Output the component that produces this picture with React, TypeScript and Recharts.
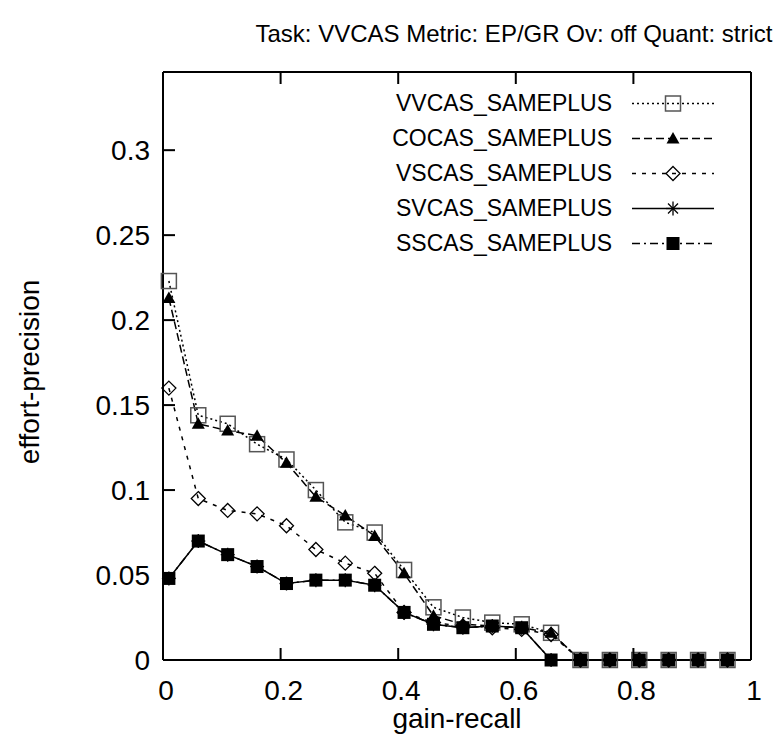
import { LineChart, Line, XAxis, YAxis, Legend } from "recharts"

// gain-recall points
const recall = [0.01, 0.06, 0.11, 0.16, 0.21, 0.26, 0.31, 0.36, 0.41, 0.46, 0.51, 0.56, 0.61, 0.66, 0.71, 0.76, 0.81, 0.86, 0.91, 0.96]

// effort-precision per run
const vvcas = [0.223, 0.144, 0.139, 0.127, 0.118, 0.1, 0.081, 0.075, 0.053, 0.031, 0.025, 0.022, 0.021, 0.016, 0, 0, 0, 0, 0, 0]
const cocas = [0.213, 0.139, 0.135, 0.132, 0.116, 0.096, 0.085, 0.073, 0.051, 0.026, 0.021, 0.02, 0.019, 0.016, 0, 0, 0, 0, 0, 0]
const vscas = [0.16, 0.095, 0.088, 0.086, 0.079, 0.065, 0.057, 0.051, 0.028, 0.022, 0.02, 0.019, 0.018, 0.015, 0, 0, 0, 0, 0, 0]
const svcas = [0.048, 0.07, 0.062, 0.055, 0.045, 0.047, 0.047, 0.044, 0.028, 0.021, 0.019, 0.02, 0.019, 0, 0, 0, 0, 0, 0, 0]
const sscas = [0.048, 0.07, 0.062, 0.055, 0.045, 0.047, 0.047, 0.044, 0.028, 0.021, 0.019, 0.02, 0.019, 0, 0, 0, 0, 0, 0, 0]

const xTicks = [0, 0.2, 0.4, 0.6, 0.8, 1]
const yTicks = [0, 0.05, 0.1, 0.15, 0.2, 0.25, 0.3]

const rows = recall.map((x, i) => ({
  x,
  vv: vvcas[i],
  co: cocas[i],
  vs: vscas[i],
  sv: svcas[i],
  ss: sscas[i],
}))

const series = [
  { key: "vv", name: "VVCAS_SAMEPLUS", dash: "2 3", shape: "square" },
  { key: "co", name: "COCAS_SAMEPLUS", dash: "8 4", shape: "triangle" },
  { key: "vs", name: "VSCAS_SAMEPLUS", dash: "4 6", shape: "diamond" },
  { key: "sv", name: "SVCAS_SAMEPLUS", dash: undefined, shape: "star" },
  { key: "ss", name: "SSCAS_SAMEPLUS", dash: "8 4 2 4", shape: "filled" },
]

const font = '"Liberation Sans", Arial, Helvetica, sans-serif'

function marker(shape: string, cx: number, cy: number, key: any) {
  if (cx == null || cy == null) return <g key={key} />
  switch (shape) {
    case "square":
      return <rect key={key} x={cx - 7.5} y={cy - 7.5} width={15} height={15} fill="none" stroke="#555" strokeWidth={1.5} />
    case "triangle":
      return <polygon key={key} points={`${cx},${cy - 6.5} ${cx - 6.5},${cy + 5} ${cx + 6.5},${cy + 5}`} fill="#000" />
    case "diamond":
      return <polygon key={key} points={`${cx},${cy - 7} ${cx + 7},${cy} ${cx},${cy + 7} ${cx - 7},${cy}`} fill="none" stroke="#000" strokeWidth={1.3} />
    case "star":
      return (
        <g key={key} stroke="#000" strokeWidth={1.3}>
          <line x1={cx - 7} y1={cy} x2={cx + 7} y2={cy} />
          <line x1={cx} y1={cy - 7} x2={cx} y2={cy + 7} />
          <line x1={cx - 5} y1={cy - 5} x2={cx + 5} y2={cy + 5} />
          <line x1={cx - 5} y1={cy + 5} x2={cx + 5} y2={cy - 5} />
        </g>
      )
    default:
      return <rect key={key} x={cx - 6.5} y={cy - 6.5} width={13} height={13} fill="#000" />
  }
}

const fmt = (v: number) => String(v)

function BottomTick(p: any) {
  return (
    <g>
      <line x1={p.x} y1={p.y} x2={p.x} y2={p.y - 12} stroke="#000" strokeWidth={2} />
      <text x={p.x + 3} y={p.y + 40} textAnchor="middle" fontSize={28} fontFamily={font} fill="#000">
        {fmt(p.payload.value)}
      </text>
    </g>
  )
}

function TopTick(p: any) {
  return <line x1={p.x} y1={p.y} x2={p.x} y2={p.y + 12} stroke="#000" strokeWidth={2} />
}

function LeftTick(p: any) {
  return (
    <g>
      <line x1={p.x} y1={p.y} x2={p.x + 12} y2={p.y} stroke="#000" strokeWidth={2} />
      <text x={p.x - 13} y={p.y + 10} textAnchor="end" fontSize={28} fontFamily={font} fill="#000">
        {fmt(p.payload.value)}
      </text>
    </g>
  )
}

function RightTick(p: any) {
  return <line x1={p.x} y1={p.y} x2={p.x - 12} y2={p.y} stroke="#000" strokeWidth={2} />
}

function LegendBox() {
  return (
    <div style={{ fontFamily: font, fontSize: 23, color: "#000" }}>
      {series.map((s) => (
        <div key={s.key} style={{ display: "flex", alignItems: "center", height: 35 }}>
          <span style={{ width: 230, textAlign: "right", whiteSpace: "nowrap" }}>{s.name}</span>
          <svg width={110} height={35} style={{ display: "block" }}>
            <line x1={20} y1={17.5} x2={102} y2={17.5} stroke="#000" strokeWidth={1.5} strokeDasharray={s.dash} />
            {marker(s.shape, 61, 17.5, s.key)}
          </svg>
        </div>
      ))}
    </div>
  )
}

const axisLine = { stroke: "#000", strokeWidth: 2 }

export default function App() {
  return (
    <div style={{ position: "absolute", left: 0, top: 0, width: 782, height: 749, background: "#fff" }}>
      <LineChart width={782} height={749} data={rows} margin={{ top: 71, right: 30, bottom: 0, left: 0 }}>
        <XAxis xAxisId="b" type="number" dataKey="x" domain={[0, 1]} ticks={xTicks} orientation="bottom" height={89}
          axisLine={axisLine} tickLine={false} tickSize={0} tickMargin={0} tick={(p: any) => <BottomTick {...p} />} />
        <XAxis xAxisId="t" type="number" dataKey="x" domain={[0, 1]} ticks={xTicks} orientation="top" height={1}
          axisLine={axisLine} tickLine={false} tickSize={0} tickMargin={0} tick={(p: any) => <TopTick {...p} />} />
        <YAxis yAxisId="l" type="number" domain={[0, 0.346]} ticks={yTicks} width={163}
          axisLine={axisLine} tickLine={false} tickSize={0} tickMargin={0} tick={(p: any) => <LeftTick {...p} />} />
        <YAxis yAxisId="r" type="number" orientation="right" domain={[0, 0.346]} ticks={yTicks} width={1}
          axisLine={axisLine} tickLine={false} tickSize={0} tickMargin={0} tick={(p: any) => <RightTick {...p} />} />
        <Legend layout="vertical" align="center" verticalAlign="middle" content={() => <LegendBox />}
          wrapperStyle={{ left: 382, top: 86, width: 345, height: 175 }} />
        {series.map((s) => (
          <Line key={s.key} xAxisId="b" yAxisId="l" type="linear" dataKey={s.key} name={s.name}
            stroke="#000" strokeWidth={1.5} strokeDasharray={s.dash} isAnimationActive={false}
            dot={(p: any) => marker(s.shape, p.cx, p.cy, p.index)} activeDot={false} />
        ))}
        <text x={514} y={42} textAnchor="middle" fontSize={24} fontFamily={font} fill="#000">
          Task: VVCAS Metric: EP/GR Ov: off Quant: strict
        </text>
        <text x={457} y={728} textAnchor="middle" fontSize={28} fontFamily={font} fill="#000">
          gain-recall
        </text>
        <text x={39} y={372} textAnchor="middle" fontSize={28} fontFamily={font} fill="#000" transform="rotate(-90 39 372)">
          effort-precision
        </text>
      </LineChart>
    </div>
  )
}
